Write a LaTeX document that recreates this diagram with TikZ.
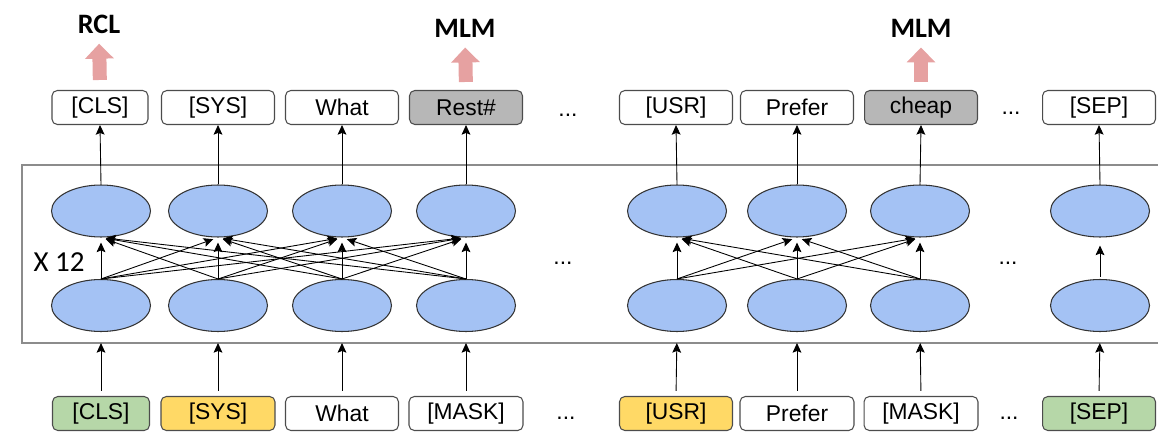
\documentclass[tikz,border=0pt]{standalone}
\usepackage{fontspec}
\setmainfont{Liberation Sans}
\newfontfamily\calib{Carlito}
\usetikzlibrary{shapes.geometric,arrows.meta}
\definecolor{cellblue}{HTML}{A4C2F4}
\definecolor{clsgreen}{HTML}{B6D7A8}
\definecolor{roleyellow}{HTML}{FFD966}
\definecolor{maskgray}{HTML}{B7B7B7}
\definecolor{taskpink}{HTML}{E6A1A1}
\begin{document}
\begin{tikzpicture}[x=0.02cm,y=-0.02cm]
\tikzset{
    token/.style={draw=black!70, line width=0.6pt, rounded corners=3pt, minimum width=2.26cm,
        minimum height=0.68cm, inner sep=0pt, font=\fontsize{13}{15}\selectfont},
    cell/.style={ellipse, draw=black!80, line width=0.6pt, fill=cellblue,
        minimum width=1.98cm, minimum height=1.04cm},
    link/.style={-{Stealth[length=5.5pt,width=5pt,inset=1pt]}, line width=0.5pt},
    task/.style={font=\calib\bfseries\fontsize{16}{18}\selectfont, inner sep=0pt},
    task arrow/.style={draw=taskpink, line width=0.28cm, -{Triangle[width=0.56cm,length=0.3cm]}},
    frame/.style={draw=black!45, line width=1.2pt},
    dots/.style={font=\fontsize{13}{15}\selectfont, inner sep=0pt}}
\useasboundingbox (0,0) rectangle (1158,432);

% encoder block
\draw[frame] (22,165) rectangle (1180,343);
\node[font=\calib\fontsize{16.5}{18}\selectfont, inner sep=0pt] (layers) at (59,262) {X 12};

% output tokens
\foreach \i/\x/\w/\word/\shade in {1/100/1.92/{[CLS]}/white,2/218/2.26/{[SYS]}/white,
        3/342/2.26/What/white,4/466/2.26/Rest\#/maskgray,5/676/2.26/{[USR]}/white,
        6/797/2.26/Prefer/white,7/921/2.26/cheap/maskgray,8/1099/2.26/{[SEP]}/white}{
    \node[token, minimum width=\w cm, fill=\shade] (out\i) at (\x,107.5) {\word};
}

% input tokens
\foreach \i/\x/\w/\word/\shade in {1/101/1.94/{[CLS]}/clsgreen,2/218/2.28/{[SYS]}/roleyellow,
        3/342/2.26/What/white,4/466/2.28/{[MASK]}/white,5/676/2.26/{[USR]}/roleyellow,
        6/797/2.28/Prefer/white,7/921/2.28/{[MASK]}/white,8/1099/2.26/{[SEP]}/clsgreen}{
    \node[token, minimum width=\w cm, fill=\shade] (in\i) at (\x,413.5) {\word};
}

% hidden states
\foreach \i/\x in {1/101,2/218,3/342,4/466,5/677,6/797,7/920,8/1100}{
    \node[cell] (up\i) at (\x,211) {};
    \node[cell] (low\i) at (\x,305.5) {};
    \draw[link] (up\i.north) -- (out\i.south);
    \draw[link, shorten <=0.1cm, shorten >=0.22cm] (in\i.north) -- (low\i.south);
}

% attention
\foreach \i in {1,...,4}{
    \foreach \j in {1,...,4}{
        \draw[link, shorten >=0.1cm] (low\i.north) -- (up\j.south);
    }
}
\foreach \i in {5,6,7}{
    \foreach \j in {5,6,7}{
        \draw[link, shorten >=0.1cm] (low\i.north) -- (up\j.south);
    }
}
\draw[link, shorten <=0.04cm, shorten >=0.16cm] (low8.north) -- (up8.south);

\node[dots] (gapa) at (568,115) {...};
\node[dots] (gapb) at (563,263) {...};
\node[dots] (gapc) at (566,418) {...};
\node[dots] (gapd) at (1011,113) {...};
\node[dots] (gape) at (1008,263) {...};
\node[dots] (gapf) at (1009,418) {...};

% objectives
\node[task] (rcl) at (99,24.5) {RCL};
\node[task] (mlma) at (465,28) {MLM};
\node[task] (mlmb) at (921,28) {MLM};
\draw[task arrow, shorten <=0.2cm, shorten >=0.19cm] (out1.north) -- (rcl.south);
\draw[task arrow, shorten <=0.16cm, shorten >=0.2cm] (out4.north) -- (mlma.south);
\draw[task arrow, shorten <=0.16cm, shorten >=0.2cm] (out7.north) -- (mlmb.south);
\end{tikzpicture}
\end{document}
